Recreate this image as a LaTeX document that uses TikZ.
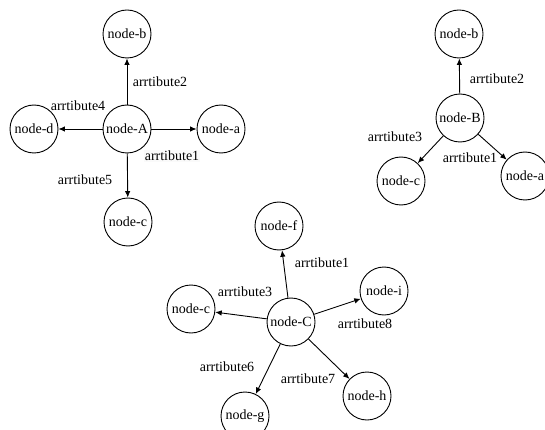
\documentclass[tikz,border=0pt]{standalone}
\usepackage{fontspec}
\setmainfont{Liberation Serif}
\usetikzlibrary{arrows.meta}
\begin{document}
\begin{tikzpicture}[x=1pt,y=-1pt,
  ent/.style={circle,draw,line width=0.9pt,minimum size=48pt,inner sep=0pt,
    font=\fontsize{14}{16}\selectfont},
  rel/.style={line width=0.9pt,-{Latex[length=6.5pt,width=5.5pt]}},
  attr/.style={inner sep=1pt,font=\fontsize{14}{16}\selectfont}]
\useasboundingbox (0,0) rectangle (545,430);
\clip (0,0) rectangle (545,430);
\fill[white] (0,0) rectangle (545,430);

% --- star around node-A
\node[ent] (A)  at (127,129) {node-A};
\node[ent] (Ab) at (127,34)  {node-b};
\node[ent] (Aa) at (221,129) {node-a};
\node[ent] (Ad) at (34,129)  {node-d};
\node[ent] (Ac) at (128,222) {node-c};
\draw[rel] (A) -- (Ab);
\draw[rel] (A) -- (Aa);
\draw[rel] (A) -- (Ad);
\draw[rel] (A) -- (Ac);
\node[attr] at (160,82)  {arrtibute2};
\node[attr] at (78,106)  {arrtibute4};
\node[attr,fill=black!2] at (172,156) {arrtibute1};
\node[attr] at (85,180)  {arrtibute5};

% --- star around node-B
\node[ent] (B)  at (460,118) {node-B};
\node[ent] (Bb) at (459,34)  {node-b};
\node[ent] (Bc) at (401,181) {node-c};
\node[ent] (Ba) at (525,176) {node-a};
\draw[rel] (B) -- (Bb);
\draw[rel] (B) -- (Bc);
\draw[rel] (B) -- (Ba);
\node[attr] at (497,79)  {arrtibute2};
\node[attr] at (395,137) {arrtibute3};
\node[attr] at (470,158) {arrtibute1};

% --- star around node-C
\node[ent] (C)  at (291,322) {node-C};
\node[ent] (Cf) at (279,226) {node-f};
\node[ent] (Ci) at (384,291) {node-i};
\node[ent] (Cc) at (191,309) {node-c};
\node[ent] (Ch) at (367,396) {node-h};
\node[ent] (Cg) at (245,416) {node-g};
\draw[rel] (C) -- (Cf);
\draw[rel] (C) -- (Ci);
\draw[rel] (C) -- (Cc);
\draw[rel] (C) -- (Ch);
\draw[rel] (C) -- (Cg);
\node[attr] at (322,263) {arrtibute1};
\node[attr] at (245,292) {arrtibute3};
\node[attr] at (365,324) {arrtibute8};
\node[attr] at (227,367) {arrtibute6};
\node[attr] at (308,379) {arrtibute7};
\end{tikzpicture}
\end{document}
